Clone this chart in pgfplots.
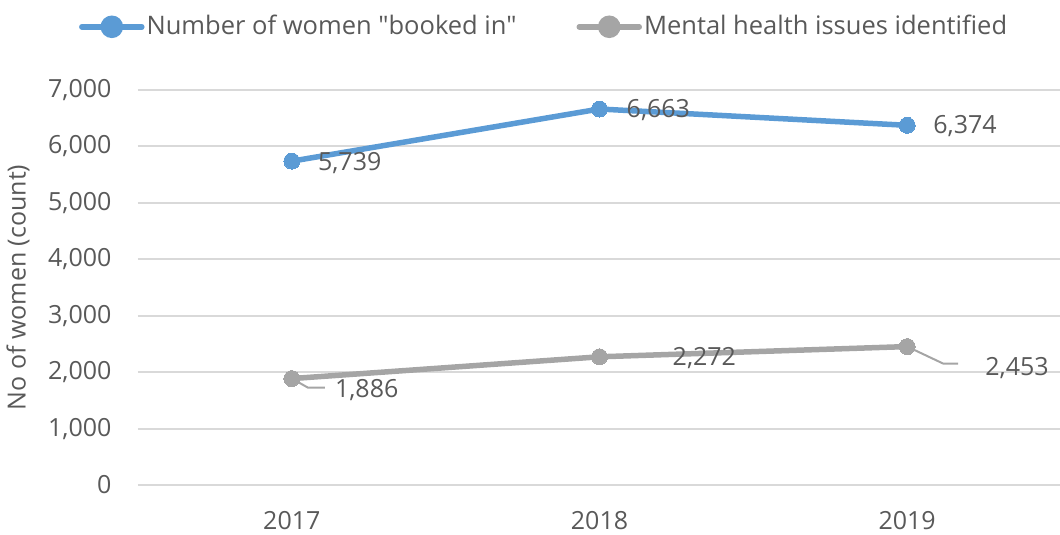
\documentclass[border=0pt]{standalone}
\usepackage{pgfplots}
\pgfplotsset{compat=1.18}
\usepackage{fontspec}
\setmainfont{Open Sans}[Ligatures=TeXOff]
\definecolor{blueS}{HTML}{5B9BD5}
\definecolor{grayS}{HTML}{A5A5A5}
\definecolor{txt}{HTML}{595959}
\definecolor{gridc}{HTML}{D9D9D9}
\begin{document}
\begin{tikzpicture}
\fontsize{25}{29}\selectfont
\begin{axis}[
  name=ax,
  scale only axis,
  width=923pt, height=395pt,
  xmin=-0.5, xmax=2.5, ymin=0, ymax=7000,
  xtick={0,1,2}, xticklabels={2017,2018,2019},
  ytick={0,1000,...,7000},
  scaled y ticks=false,
  /pgf/number format/1000 sep={,},
  /pgf/number format/assume math mode=true,
  axis line style={draw=none},
  tick style={draw=none},
  ymajorgrids=true, grid style={draw=gridc, line width=2pt},
  tick label style={text=txt, font=\fontsize{25}{29}\selectfont},
  yticklabel style={xshift=-18pt},
  xticklabel style={yshift=-18pt},
  ylabel={No of women (count)},
  ylabel style={at={(axis description cs:0,0.5)}, yshift=120pt, anchor=center,
    text=txt, font=\fontsize{25}{29}\selectfont},
  clip=false,
  legend columns=2,
  legend style={at={(0.44,1.16)}, anchor=center, draw=none, fill=none,
    font=\fontsize{25.5}{29}\selectfont, text=txt,
    /tikz/every even column/.append style={column sep=58pt},
    inner sep=0pt},
  legend cell align=left,
  legend image code/.code={
    \draw[#1, line width=5.5pt, line cap=round] (0pt,0pt) -- (60pt,0pt);
    \fill[#1] (30pt,0pt) circle (8.5pt);
  },
]
\addplot[blueS, line width=5.5pt, mark=*, mark size=8pt, mark options={fill=blueS, draw=blueS, line width=0pt}]
  coordinates {(0,5739) (1,6663) (2,6374)};
\addlegendentry{Number of women "booked in"}
\addplot[grayS, line width=5.5pt, mark=*, mark size=8pt, mark options={fill=grayS, draw=grayS, line width=0pt}]
  coordinates {(0,1886) (1,2272) (2,2453)};
\addlegendentry{Mental health issues identified}

\begin{scope}[every node/.style={text=txt, inner sep=0pt, anchor=west, font=\fontsize{25}{29}\selectfont}]
\node at ([xshift=26pt,yshift=-2pt]axis cs:0,5739) {5,739};
\node at ([xshift=27pt,yshift=-1pt]axis cs:1,6663) {6,663};
\node at ([xshift=26pt,yshift=-1pt]axis cs:2,6374) {6,374};
\node at ([xshift=43pt,yshift=-11pt]axis cs:0,1886) {1,886};
\node at ([xshift=73pt,yshift=-1pt]axis cs:1,2272) {2,272};
\node at ([xshift=78pt,yshift=-21pt]axis cs:2,2453) {2,453};
\end{scope}
\draw[grayS, line width=2pt] (axis cs:0,1886) -- ([xshift=16pt,yshift=-9pt]axis cs:0,1886) -- ([xshift=33pt,yshift=-9pt]axis cs:0,1886);
\draw[grayS, line width=2pt] (axis cs:2,2453) -- ([xshift=36pt,yshift=-17pt]axis cs:2,2453) -- ([xshift=51pt,yshift=-17pt]axis cs:2,2453);
\end{axis}
\pgfresetboundingbox
\path[use as bounding box] ([xshift=-138pt,yshift=-50pt]ax.south west) rectangle ([xshift=-1pt,yshift=90pt]ax.north east);
\end{tikzpicture}
\end{document}
